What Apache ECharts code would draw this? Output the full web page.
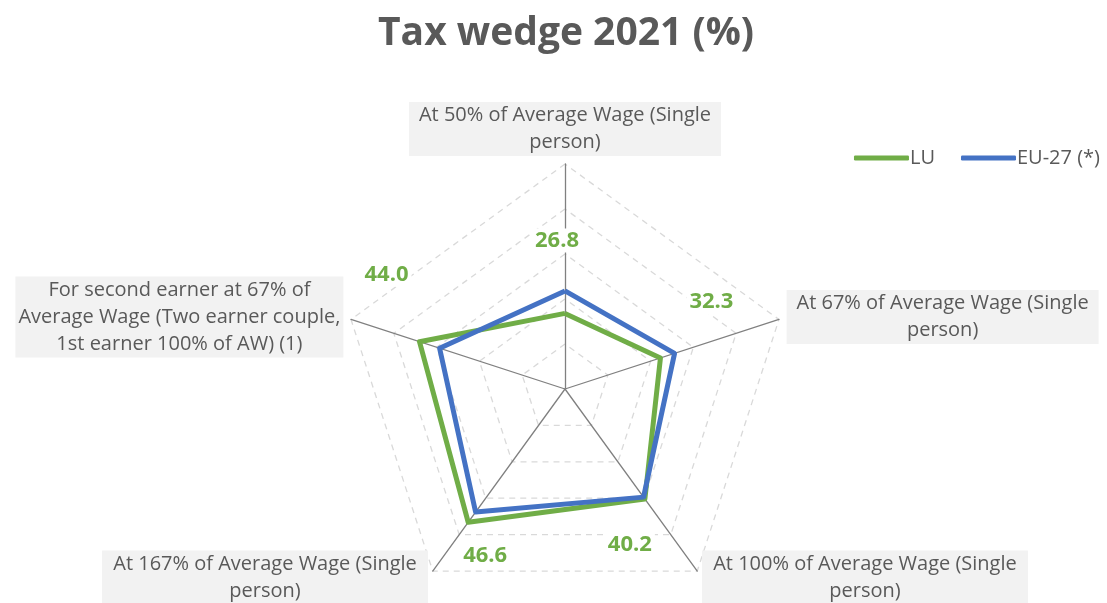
<!DOCTYPE html>
<html>
<head>
<meta charset="utf-8">
<script src="https://cdn.jsdelivr.net/npm/echarts@6/dist/echarts.min.js"></script>
<style>
  html, body { margin: 0; padding: 0; background: #fff; }
  #chart { width: 1107px; height: 603px; }
</style>
</head>
<body>
<div id="chart"></div>
<script>
// categories, in the order they go round the chart (clockwise from the top)
const categories = [
  'At 50% of Average Wage (Single\nperson)',
  'At 67% of Average Wage (Single\nperson)',
  'At 100% of Average Wage (Single\nperson)',
  'At 167% of Average Wage (Single\nperson)',
  'For second earner at 67% of\nAverage Wage (Two earner couple,\n1st earner 100% of AW) (1)'
]
const luValues = [26.8, 32.3, 40.2, 46.6, 44.0]
const euValues = [31.8, 35.6, 39.7, 43.8, 39.3]
const axisMin = 10
const axisMax = 60

// echarts lays indicators out counter clockwise, so walk the list backwards
const order = [0, 4, 3, 2, 1]

const green = '#70ad47'
const blue = '#4472c4'
const grey = '#595959'
const font = 'Open Sans'

// width of the grey box behind each category name
const nameWidth = [312, 312, 326, 326, 328]
// where each LU value label sits, relative to its point
const labelShift = [[-8, -73], [51, -56], [-15, 46], [17, 33], [-33, -67]]

const nameRich = {}
nameWidth.forEach((w, i) => {
    nameRich['w' + i] = { width: w, align: 'center', lineHeight: 27, fontSize: 20, color: grey, fontFamily: font }
})

const labelRich = {
    n: { color: green, fontWeight: 'bold', fontSize: 22, fontFamily: font, backgroundColor: '#fff', padding: [1, 3], lineHeight: 26 }
}
labelShift.forEach(([dx, dy], i) => {
    labelRich['h' + i] = { width: Math.abs(dx) * 2, fontSize: 1 }
    labelRich['v' + i] = { height: Math.abs(dy) * 2, lineHeight: Math.abs(dy) * 2, fontSize: 1 }
})

const pick = arr => order.map(i => arr[i])

const option = {
    backgroundColor: '#fff',
    title: {
        text: 'Tax wedge 2021 (%)',
        left: 561,
        textAlign: 'center',
        top: 9,
        textStyle: { fontSize: 39, fontWeight: 'bold', color: grey, fontFamily: font }
    },
    legend: {
        right: 2,
        top: 143,
        icon: 'roundRect',
        itemWidth: 55,
        itemHeight: 5,
        itemGap: 26,
        textStyle: { fontSize: 20, color: grey, fontFamily: font, padding: [0, 0, 0, -4] },
        data: ['LU', 'EU-27 (*)']
    },
    radar: {
        center: [565, 389],
        radius: 225,
        shape: 'polygon',
        splitNumber: 5,
        axisNameGap: 8,
        indicator: pick(categories).map(name => ({ name: name, min: axisMin, max: axisMax })),
        axisName: {
            backgroundColor: '#f2f2f2',
            fontSize: 20,
            color: grey,
            fontFamily: font,
            rich: nameRich,
            formatter: name => {
                const i = categories.indexOf(name)
                return name.split('\n').map(l => '{w' + i + '|' + l + '}').join('\n')
            }
        },
        axisLine: { lineStyle: { color: '#808080', width: 1.3 } },
        splitLine: { lineStyle: { color: '#d9d9d9', width: 1.3, type: [6, 5] } },
        splitArea: { show: false }
    },
    series: [
        {
            name: 'LU',
            type: 'radar',
            symbol: 'circle',
            symbolSize: 1,
            color: green,
            lineStyle: { color: green, width: 5 },
            label: {
                show: true,
                position: 'inside',
                rich: labelRich,
                formatter: p => {
                    const i = luValues.indexOf(p.value)
                    const [dx, dy] = labelShift[i]
                    let line = '{n|' + p.value.toFixed(1) + '}'
                    if (dx > 0) line = '{h' + i + '| }' + line
                    else if (dx < 0) line = line + '{h' + i + '| }'
                    if (dy < 0) return line + '\n{v' + i + '| }'
                    return '{v' + i + '| }\n' + line
                }
            },
            data: [{ name: 'LU', value: pick(luValues) }]
        },
        {
            name: 'EU-27 (*)',
            type: 'radar',
            symbol: 'none',
            color: blue,
            lineStyle: { color: blue, width: 5 },
            data: [{ name: 'EU-27 (*)', value: pick(euValues) }]
        }
    ]
}

const chart = echarts.init(document.getElementById('chart'))
chart.setOption(option)
</script>
</body>
</html>
